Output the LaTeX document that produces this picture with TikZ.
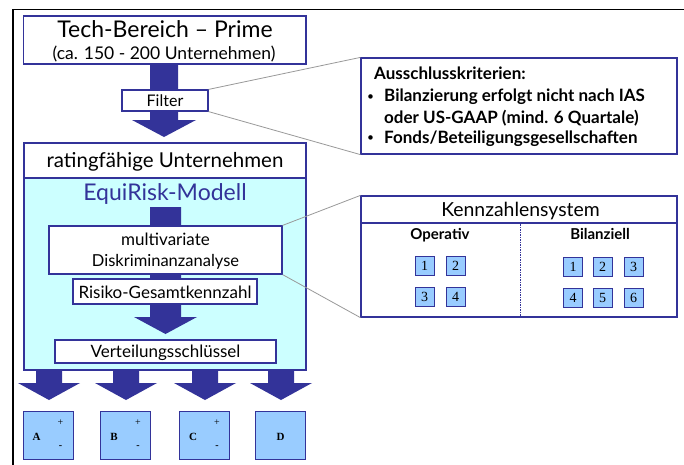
\documentclass[tikz,border=0pt]{standalone}
\usepackage{fontspec}
\setmainfont{Lato}
\newfontfamily\numfont{Liberation Serif}
\definecolor{dblue}{HTML}{333399}
\definecolor{cyanbg}{HTML}{CCFFFF}
\definecolor{lblue}{HTML}{99CCFF}
\definecolor{callgray}{HTML}{999999}
\newcommand\fs[1]{\fontsize{#1}{#1}\selectfont}
\newcommand\smbullet{\makebox[0pt][l]{\raisebox{1.2pt}{\fs{12}•}}}
% block arrow: center x, top y, head y, tip y, shaft half width, head half width
\newcommand\blockarrow[6]{%
  \fill[dblue] (#1-#5,#2) -- (#1+#5,#2) -- (#1+#5,#3) -- (#1+#6,#3) -- (#1,#4)
    -- (#1-#6,#3) -- (#1-#5,#3) -- cycle;}
\begin{document}
\begin{tikzpicture}[x=1pt,y=-1pt,
  box/.style={draw=dblue, line width=1.2pt, fill=white, inner sep=0pt, rectangle},
  numbox/.style={draw=dblue, line width=1pt, fill=lblue, inner sep=0pt,
    minimum width=19pt, minimum height=19pt, font=\numfont\fs{14}},
  classbox/.style={draw=dblue, line width=1pt, fill=lblue, inner sep=0pt,
    minimum width=50pt, minimum height=48pt},
  txt/.style={inner sep=0pt, anchor=base},
  callout/.style={draw=callgray, line width=0.8pt}]
\useasboundingbox (0,0) rectangle (684,464);
\fill[white] (0,0) rectangle (684,464);
% outer frame
\draw[line width=1.5pt] (13,465) -- (13,9.5) -- (685,9.5);

% block arrow beneath the filter box
\blockarrow{164}{64}{120}{137}{14}{32}

% boxes left column
\node[box, minimum width=282.5pt, minimum height=48pt] (tech) at (164.75,40) {};
\node[txt] (techt) at (165,37) {\fs{23}Tech-Bereich – Prime};
\node[txt] (techs) at (164,59) {\fs{17.5}(ca. 150 - 200 Unternehmen)};

\node[box, minimum width=86pt, minimum height=21pt] (filter) at (165,100.5) {};
\node[txt] (filtert) at (165,106) {\fs{16}Filter};

\node[box, minimum width=282pt, minimum height=35pt] (rating) at (165,160.5) {};
\node[txt] (ratingt) at (165,167) {\fs{20.5}ratingfähige Unternehmen};

\node[box, fill=cyanbg, minimum width=282pt, minimum height=192pt] (model) at (165,274) {};
\blockarrow{165.5}{207}{317}{334}{15.5}{31.5}
\node[txt, text=dblue] (modelt) at (165,200.5) {\fs{23}EquiRisk-Modell};

\node[box, minimum width=233pt, minimum height=48pt] (multi) at (165.5,250) {};
\node[txt] (multit1) at (165.5,245) {\fs{17}multivariate};
\node[txt] (multit2) at (165.5,266.5) {\fs{16.5}Diskriminanzanalyse};

\node[box, minimum width=184pt, minimum height=25pt] (risiko) at (165,291.5) {};
\node[txt] (risikot) at (165,298) {\fs{17}Risiko-Gesamtkennzahl};

\node[box, minimum width=221pt, minimum height=23pt] (vert) at (165.5,351.5) {};
\node[txt] (vertt) at (165.5,357.5) {\fs{17}Verteilungsschlüssel};

% four distribution arrows
\blockarrow{49}{369}{383}{400}{13}{31}
\blockarrow{126}{369}{383}{400}{13}{31}
\blockarrow{205}{369}{383}{400}{13}{31}
\blockarrow{281}{369}{383}{400}{13}{31}

% classes
\foreach \n/\cx/\l/\pm in {ca/48/A/1, cb/125.5/B/1, cc/204.5/C/1, cd/280.5/D/0}{
  \node[classbox] (\n) at (\cx,435) {};
  \ifnum\pm=1
    \node[inner sep=0pt, font=\numfont\bfseries\fs{11}] at (\cx-11.5,437) {\l};
    \node[inner sep=0pt, font=\numfont\fs{10}] at (\cx+12.5,423) {+};
    \node[inner sep=0pt, font=\numfont\bfseries\fs{10}] at (\cx+12.5,447) {-};
  \else
    \node[inner sep=0pt, font=\numfont\bfseries\fs{11}] at (\cx,437) {\l};
  \fi
}

% Ausschlusskriterien
\node[box, minimum width=316pt, minimum height=96pt] (aus) at (519,106) {};
\node[txt, anchor=base west] (aus1) at (374,79) {\fs{17}\bfseries Ausschlusskriterien:};
\node[txt, anchor=base west] (aus2) at (367,101.5) {\smbullet\hspace*{17pt}\fs{17}\bfseries Bilanzierung erfolgt nicht nach IAS};
\node[txt, anchor=base west] (aus3) at (384,123) {\fs{17}\bfseries oder US-GAAP (mind. 6 Quartale)};
\node[txt, anchor=base west] (aus4) at (367,143) {\smbullet\hspace*{17pt}\fs{17}\bfseries Fonds/Beteiligungsgesellschaften};
\draw[callout] (filter.north east) -- (aus.north west);
\draw[callout] (filter.south east) -- (aus.south west);

% Kennzahlensystem
\node[box, minimum width=316pt, minimum height=121pt] (kenn) at (519,256.5) {};
\coordinate (divl) at (361,223);
\coordinate (divr) at (677,223);
\draw[dblue, line width=1.2pt] (divl) -- (divr);
\coordinate (vtop) at (520,224);
\coordinate (vbot) at (520,317);
\draw[dblue, line width=0.6pt, dash pattern=on 1.5pt off 1pt] (vtop) -- (vbot);
\node[txt] (kennt) at (520.5,216) {\fs{19.4}Kennzahlensystem};
\node[txt] (oper) at (440,239.3) {\fs{15}\bfseries Operativ};
\node[txt] (bil) at (600,239.3) {\fs{15}\bfseries Bilanziell};
\node[numbox] (o1) at (424.5,266) {1};
\node[numbox] (o2) at (455.5,266) {2};
\node[numbox] (o3) at (424.5,297) {3};
\node[numbox] (o4) at (455.5,297) {4};
\node[numbox] (b1) at (573,267) {1};
\node[numbox] (b2) at (602.5,267) {2};
\node[numbox] (b3) at (633.5,267) {3};
\node[numbox] (b4) at (573,298) {4};
\node[numbox] (b5) at (602.5,298) {5};
\node[numbox] (b6) at (633.5,298) {6};
\draw[callout] (multi.north east) -- (kenn.north west);
\draw[callout] (multi.south east) -- (kenn.south west);
\end{tikzpicture}
\end{document}
